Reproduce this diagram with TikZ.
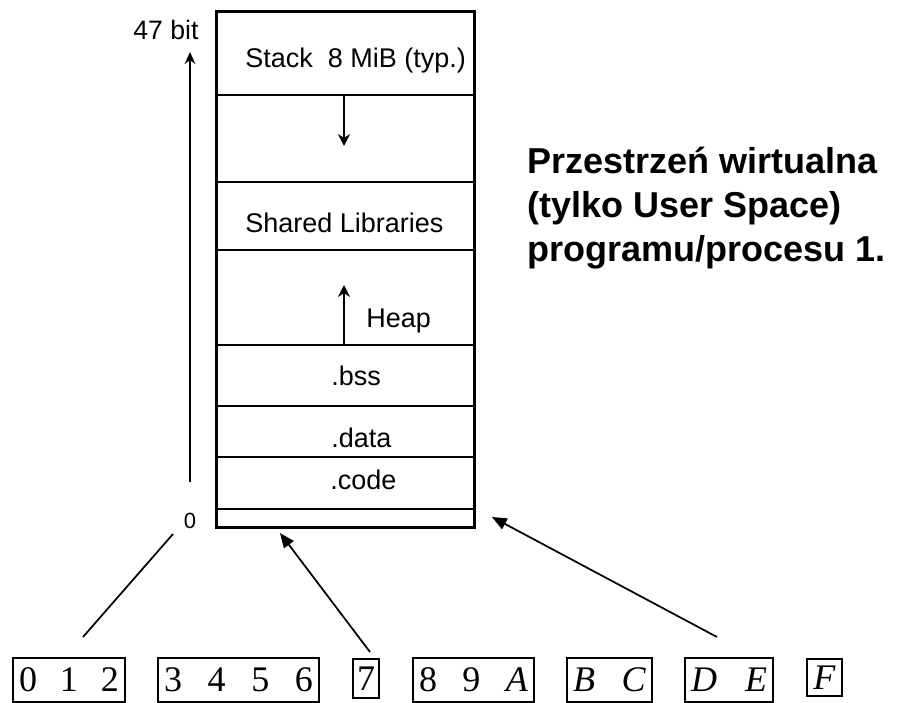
\documentclass[tikz,border=0pt]{standalone}
\usepackage{fontspec}
\setmainfont{Liberation Serif}
\setsansfont{Liberation Sans}
\usetikzlibrary{arrows.meta}

\begin{document}
\begin{tikzpicture}[x=0.75pt,y=-0.75pt,
  frame/.style={line width=2pt},
  divider/.style={line width=1.5pt},
  lbl/.style={font=\sffamily\fontsize{20.25}{24}\selectfont, inner sep=0pt, anchor=base west},
  small/.style={inner sep=0pt},
  growth/.style={line width=1.5pt, -{Stealth[length=9pt,width=9pt,inset=3pt]}},
  pointer/.style={line width=1.3pt, -{Triangle[length=11pt,width=9pt]}},
  link/.style={line width=1.3pt},
  bitbox/.style={draw, line width=1pt, inner sep=0pt, font=\fontsize{27}{30}\selectfont},
  title/.style={font=\sffamily\bfseries\fontsize{27}{33}\selectfont, inner sep=0pt, anchor=base west}
]
\useasboundingbox (0,0) rectangle (897,703);

% address space column
\node[draw, frame, inner sep=0pt, anchor=north west,
      minimum width=193.5pt, minimum height=387pt] (mem) at (215,10) {};
\foreach \y in {95,182,250,345,406,457,509}
  \draw[divider] (215,\y) -- (473,\y);

% segment labels
\node[lbl] (stack) at (245,67) {Stack\ \ 8 MiB (typ.)};
\node[lbl] (shlib) at (245,232) {Shared Libraries};
\node[lbl] (heap)  at (366,327) {Heap};
\node[lbl] (bss)   at (331,385) {.bss};
\node[lbl] (data)  at (331,447) {.data};
\node[lbl] (code)  at (330,489) {.code};

% growth directions
\coordinate (stacktop) at (344,95);
\coordinate (stackend) at (344,146);
\coordinate (heapbase) at (344,345);
\coordinate (heapend)  at (344,285);
\draw[growth] (stacktop) -- (stackend);
\draw[growth] (heapbase) -- (heapend);

% address axis
\node[small, anchor=base west, font=\sffamily\fontsize{20}{22}\selectfont] (top) at (133,39) {47 bit};
\node[small, font=\sffamily\fontsize{16.5}{20}\selectfont] (zero) at (190,521) {0};
\coordinate (axisbase) at (190,482);
\coordinate (axistop)  at (190,52);
\draw[growth, -{Stealth[length=9pt,width=8pt,inset=3pt]}] (axisbase) -- (axistop);

% title
\node[title] (t1) at (527,173) {Przestrzeń wirtualna};
\node[title] (t2) at (527,217) {(tylko User Space)};
\node[title] (t3) at (527,261) {programu/procesu 1.};

% bit groups
\node[bitbox, minimum width=84pt, minimum height=33pt] (b012) at (69,680)
  {\hbox to 75pt{0\hfill 1\hfill 2}};
\node[bitbox, minimum width=120.75pt, minimum height=33pt] (b3456) at (238.5,680)
  {\hbox to 111.75pt{3\hfill 4\hfill 5\hfill 6}};
\node[bitbox, minimum width=19.5pt, minimum height=29.25pt] (b7) at (366,678.5) {7};
\node[bitbox, minimum width=90.75pt, minimum height=33pt] (b89A) at (473.5,680)
  {\hbox to 81.75pt{8\hfill 9\hfill \textit{A}}};
\node[bitbox, minimum width=63.75pt, minimum height=33pt] (bBC) at (609.5,680)
  {\hbox to 54.75pt{\textit{B}\hfill \textit{C}}};
\node[bitbox, minimum width=66pt, minimum height=33pt] (bDE) at (729,680)
  {\hbox to 57pt{\textit{D}\hfill \textit{E}}};
\node[bitbox, minimum width=26.25pt, minimum height=27.75pt] (bF) at (824.5,677.5) {\textit{F}};

% connectors from bit groups
\coordinate (l0a) at (83,637);
\coordinate (l0b) at (173,534);
\coordinate (l7a) at (370,652);
\coordinate (l7b) at (280,533);
\coordinate (lDa) at (717,637);
\coordinate (lDb) at (492,517);
\draw[link] (l0a) -- (l0b);
\draw[pointer] (l7a) -- (l7b);
\draw[pointer] (lDa) -- (lDb);
\end{tikzpicture}
\end{document}
